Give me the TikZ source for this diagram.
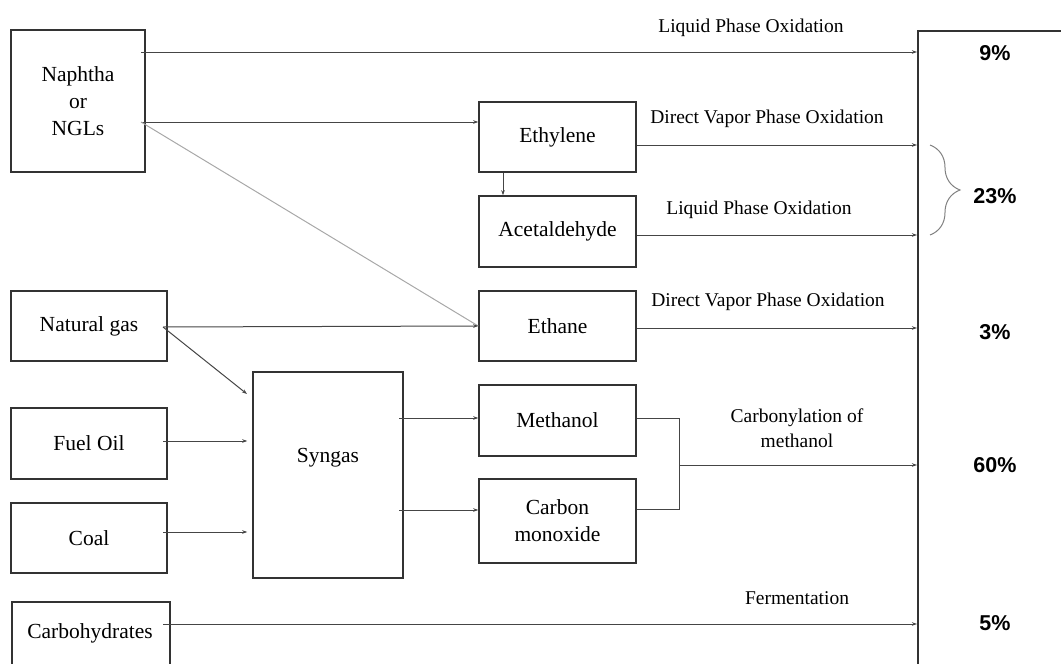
\documentclass[tikz,border=0pt]{standalone}
\usepackage{fontspec}
\setmainfont{Liberation Serif}
\newfontfamily\pctfont{Liberation Sans}
\usetikzlibrary{arrows.meta,decorations.pathreplacing}
\definecolor{boxcol}{HTML}{333333}
\definecolor{linecol}{HTML}{454545}
\definecolor{lightcol}{HTML}{A8A8A8}
\tikzset{
  stage/.style={draw=boxcol,line width=1.5pt,inner sep=0pt,align=center,
    font=\fontsize{21.5}{27}\selectfont,text=black},
  flow/.style={draw=linecol,line width=1pt,-{Stealth[length=5pt,width=3.5pt]}},
  plain/.style={draw=linecol,line width=1pt},
  lbl/.style={font=\fontsize{19.5}{25}\selectfont,align=center,inner sep=0pt},
  pct/.style={font=\pctfont\bfseries\fontsize{21.5}{25}\selectfont,inner sep=0pt}
}
\begin{document}
\begin{tikzpicture}[x=1pt,y=-1pt]
\useasboundingbox (0,0) rectangle (1061,664);
\clip (0,0) rectangle (1061,664);
% boxes
\node[stage,minimum width=134pt,minimum height=142pt] (nap) at (78,101) {Naphtha\\or\\NGLs};
\node[stage,minimum width=157pt,minimum height=70pt] (eth) at (557.5,137) {Ethylene};
\node[stage,minimum width=157pt,minimum height=71pt] (ace) at (557.5,231.5) {Acetaldehyde};
\node[stage,minimum width=156pt,minimum height=70pt] (ng) at (89,326) {Natural gas};
\node[stage,minimum width=157pt,minimum height=70pt] (etn) at (557.5,326) {Ethane};
\node[stage,minimum width=156pt,minimum height=71pt] (fuel) at (89,443.5) {Fuel Oil};
\node[stage,minimum width=156pt,minimum height=70pt] (coal) at (89,538) {Coal};
\node[stage,minimum width=150pt,minimum height=206pt] (syn) at (328,475) {};
\node[font=\fontsize{21.5}{27}\selectfont,inner sep=0pt] (synt) at (328,458) {Syngas};
\node[stage,minimum width=157pt,minimum height=71pt] (meth) at (557.5,420.5) {Methanol};
\node[stage,minimum width=157pt,minimum height=84pt] (co) at (557.5,521) {Carbon\\monoxide};
\node[stage,minimum width=158pt,minimum height=100pt,anchor=north west] (carb) at (11,601) {};
\node[font=\fontsize{21.5}{27}\selectfont,inner sep=0pt] (carbt) at (90,633) {Carbohydrates};
\node[stage,minimum width=200pt,minimum height=700pt,anchor=north west] (out) at (917,30) {};
% coordinates for line starts
\coordinate (napA) at (141,52);
\coordinate (napB) at (141,122);
\coordinate (ngA) at (163,327);
\coordinate (fuelA) at (163,441);
\coordinate (coalA) at (163,532);
\coordinate (carbA) at (163,624);
\coordinate (synA) at (399,418);
\coordinate (synB) at (399,510);
\coordinate (junc) at (679,465);
% flows
\draw[flow] (napA) -- (napA -| out.west);
\draw[flow] (napB) -- (napB -| eth.west);
\draw[plain,draw=lightcol] (napB) -- (etn.west);
\draw[flow] (eth.south -| 503,0) -- (ace.north -| 503,0);
\draw[flow] (eth.east |- 0,145) -- (out.west |- 0,145);
\draw[flow] (ace.east |- 0,235) -- (out.west |- 0,235);
\draw[flow] (ngA) -- (etn.west);
\draw[flow] (etn.east |- 0,328) -- (out.west |- 0,328);
\draw[flow] (ngA) -- (247,394);
\draw[flow,shorten >=5pt] (fuelA) -- (fuelA -| syn.west);
\draw[flow,shorten >=5pt] (coalA) -- (coalA -| syn.west);
\draw[flow] (synA) -- (synA -| meth.west);
\draw[flow] (synB) -- (synB -| co.west);
\draw[plain] (meth.east |- 0,418) -- (679,418) -- (679,509) -- (co.east |- 0,509);
\draw[flow] (junc) -- (junc -| out.west);
\draw[flow] (carbA) -- (carbA -| out.west);
% labels
\node[lbl] (l1) at (751,28) {Liquid Phase Oxidation};
\node[lbl] (l2) at (767,119) {Direct Vapor Phase Oxidation};
\node[lbl] (l3) at (759,210) {Liquid Phase Oxidation};
\node[lbl] (l4) at (768,302) {Direct Vapor Phase Oxidation};
\node[lbl] (l5) at (797,428) {Carbonylation of\\methanol};
\node[lbl] (l6) at (797,598) {Fermentation};
% brace
\draw[draw=gray,line width=1pt,decorate,decoration={brace,amplitude=30pt,aspect=0.5}] (930,145) -- (930,235);
% percentages
\node[pct] (p1) at (995,53) {9\%};
\node[pct] (p2) at (995,196) {23\%};
\node[pct] (p3) at (995,332) {3\%};
\node[pct] (p4) at (995,465) {60\%};
\node[pct] (p5) at (995,623) {5\%};
\end{tikzpicture}
\end{document}
